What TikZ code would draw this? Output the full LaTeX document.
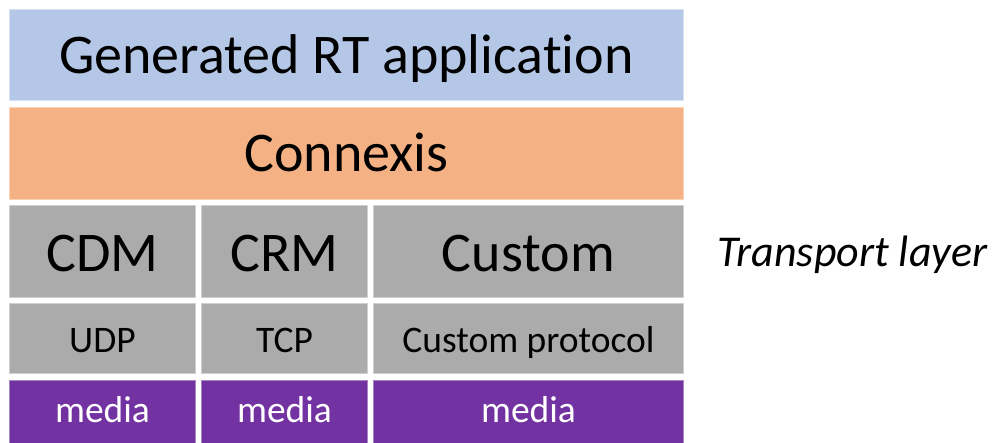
\documentclass[tikz,border=0pt]{standalone}
\usepackage{fontspec}
\setmainfont[Ligatures={NoCommon,NoContextual,NoRare},Contextuals={NoAlternate}]{Carlito}
\definecolor{appblue}{HTML}{B4C7E7}
\definecolor{appblueedge}{HTML}{D6E1F3}
\definecolor{conorange}{HTML}{F4B183}
\definecolor{conorangeedge}{HTML}{F9D2B5}
\definecolor{layergray}{HTML}{ABABAB}
\definecolor{layergrayedge}{HTML}{CFCFCF}
\definecolor{mediapurple}{HTML}{7332A1}
\definecolor{mediapurpleedge}{HTML}{A585C2}
\tikzset{
  layerbox/.style={rectangle, inner sep=0pt, line width=1pt, anchor=north west},
  bluebox/.style={layerbox, fill=appblue, draw=appblueedge},
  orangebox/.style={layerbox, fill=conorange, draw=conorangeedge},
  graybox/.style={layerbox, fill=layergray, draw=layergrayedge},
  purplebox/.style={layerbox, fill=mediapurple, draw=mediapurpleedge},
  bigtext/.style={anchor=base, inner sep=0pt, font=\fontsize{56}{60}\selectfont, text=black},
  smalltext/.style={anchor=base, inner sep=0pt, font=\fontsize{37.5}{40}\selectfont, text=black},
  mediatext/.style={anchor=base, inner sep=0pt, font=\fontsize{37.5}{40}\selectfont, text=white},
  sidetext/.style={anchor=base west, inner sep=0pt, font=\fontsize{44}{48}\itshape\selectfont, text=black}
}
\begin{document}
\begin{tikzpicture}[x=1pt,y=-1pt]
\useasboundingbox (0,0) rectangle (995,443);
\clip (0,0) rectangle (995,443);
% rows
\node[bluebox, minimum width=674pt, minimum height=91pt] (app) at (9,9) {};
\node[orangebox, minimum width=674pt, minimum height=92pt] (cnx) at (9,107) {};
% gray row 1
\node[graybox, minimum width=186pt, minimum height=92pt] (cdm) at (9,205) {};
\node[graybox, minimum width=166pt, minimum height=92pt] (crm) at (201,205) {};
\node[graybox, minimum width=310pt, minimum height=92pt] (cus) at (373,205) {};
% gray row 2
\node[graybox, minimum width=186pt, minimum height=70pt] (udp) at (9,303) {};
\node[graybox, minimum width=166pt, minimum height=70pt] (tcp) at (201,303) {};
\node[graybox, minimum width=310pt, minimum height=70pt] (cpr) at (373,303) {};
% media row
\node[purplebox, minimum width=186pt, minimum height=80pt] (m1) at (9,380) {};
\node[purplebox, minimum width=166pt, minimum height=80pt] (m2) at (201,380) {};
\node[purplebox, minimum width=310pt, minimum height=80pt] (m3) at (373,380) {};
% texts
\node[bigtext] (tapp) at (app.center |- 0,74) {Generated RT applicat\kern0pt ion};
\node[bigtext] (tcnx) at (cnx.center |- 0,172) {Connexis};
\node[bigtext] (tcdm) at (cdm.center |- 0,272) {CDM};
\node[bigtext] (tcrm) at (crm.center |- 0,272) {CRM};
\node[bigtext] (tcus) at (cus.center |- 0,272) {Custom};
\node[smalltext] (tudp) at (udp.center |- 0,352) {UDP};
\node[smalltext] (ttcp) at (tcp.center |- 0,352) {TCP};
\node[smalltext] (tcpr) at (cpr.center |- 0,352) {Custom protocol};
\node[mediatext] (tm1) at (m1.center |- 0,422) {media};
\node[mediatext] (tm2) at (m2.center |- 0,422) {media};
\node[mediatext] (tm3) at (m3.center |- 0,422) {media};
\node[sidetext] (ttl) at (717,267) {Transport layer};
\end{tikzpicture}
\end{document}
